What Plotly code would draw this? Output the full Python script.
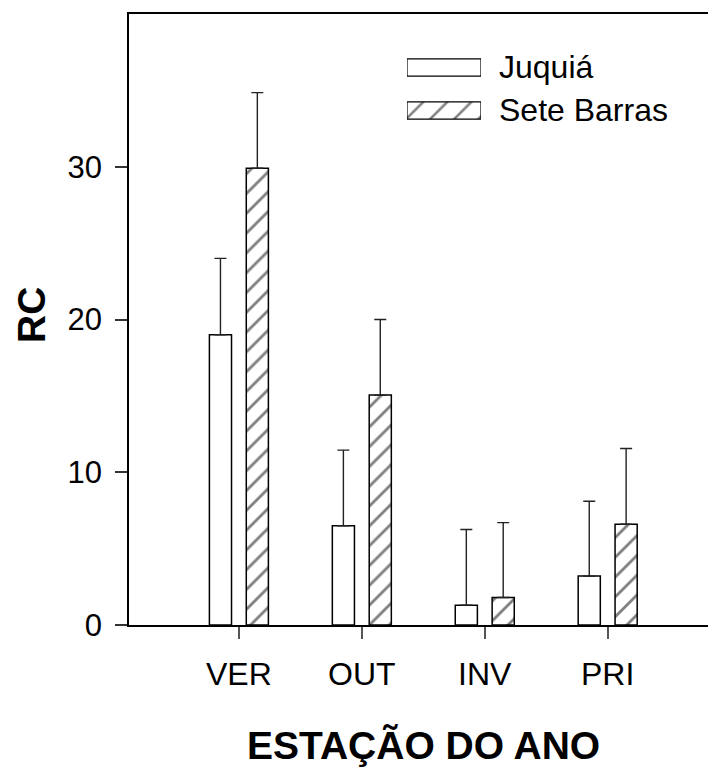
import plotly.graph_objects as go

categories = ['VER', 'OUT', 'INV', 'PRI']
juquia = [19.0, 6.5, 1.3, 3.2]
juquia_err = [5.0, 4.95, 4.95, 4.9]
sete = [29.9, 15.05, 1.8, 6.6]
sete_err = [4.95, 4.95, 4.9, 4.95]
series_names = ['Juquiá', 'Sete Barras']
y_ticks = [0, 10, 20, 30]

FONT = 'Liberation Sans, Arial, sans-serif'
W, H = 708, 767
L, R, T, B = 129, 0, 14, 142

fig = go.Figure()

def err(arr):
    return dict(type='data', symmetric=False, array=arr, arrayminus=[0] * len(arr),
                color='#222', thickness=1.4, width=6)

fig.add_trace(go.Bar(
    x=categories, y=juquia, name=series_names[0], error_y=err(juquia_err),
    marker=dict(color='white', line=dict(color='black', width=1.5)),
    showlegend=False))
fig.add_trace(go.Bar(
    x=categories, y=sete, name=series_names[1], error_y=err(sete_err),
    marker=dict(color='white', line=dict(color='black', width=1.5),
                pattern=dict(shape='/', fgcolor='black', bgcolor='white', size=14, solidity=0.2)),
    showlegend=False))

# custom legend drawn as a tiny hidden subplot
fig.add_trace(go.Bar(
    x=[1, 1], y=[0, 1], orientation='h', base=0, width=0.4,
    xaxis='x2', yaxis='y2', showlegend=False, hoverinfo='skip',
    marker=dict(color='white', line=dict(color='black', width=1.2),
                pattern=dict(shape=['', '/'], fgcolor='black', bgcolor='white', size=17, solidity=0.15))))

pw = W - L - R
ph = H - T - B
def px_x(p):
    return (p - L) / pw
def px_y(p):
    return (H - B - p) / ph

for i, name in enumerate(series_names):
    fig.add_annotation(x=1, y=i, xref='x2', yref='y2', text=name, showarrow=False,
                       xanchor='left', yanchor='middle', xshift=16,
                       font=dict(family=FONT, size=32, color='black'))

fig.add_annotation(x=px_x(31), y=px_y(315), xref='paper', yref='paper', text='<b>RC</b>',
                   textangle=-90, showarrow=False, xanchor='center', yanchor='middle',
                   font=dict(family=FONT, size=39, color='black'))
fig.add_annotation(x=px_x(423), y=px_y(745), xref='paper', yref='paper',
                   text='<b>ESTAÇÃO DO ANO</b>', showarrow=False, xanchor='center', yanchor='middle',
                   font=dict(family=FONT, size=39, color='black'))

fig.update_layout(
    width=W, height=H,
    margin=dict(l=L, r=R, t=T, b=B, pad=0),
    paper_bgcolor='white', plot_bgcolor='white',
    barmode='group', bargap=0.4, bargroupgap=0.4,
    font=dict(family=FONT, color='black'),
    xaxis=dict(type='category', range=[-0.894, 3.816], showline=True, linecolor='black', linewidth=1.5,
               mirror=True, ticks='outside', ticklen=12, tickcolor='#555', tickwidth=1.5,
               tickfont=dict(family=FONT, size=32), showgrid=False, zeroline=False,
               ticklabelstandoff=8),
    yaxis=dict(range=[0, 40], tickvals=y_ticks, showline=True, linecolor='black', linewidth=1.5,
               mirror=False, ticks='outside', ticklen=12, tickcolor='#333', tickwidth=1.5,
               tickfont=dict(family=FONT, size=31), showgrid=False, zeroline=False,
               ticklabelstandoff=7),
    xaxis2=dict(domain=[px_x(407), px_x(481)], range=[0, 1], anchor='y2', visible=False,
                fixedrange=True),
    yaxis2=dict(domain=[px_y(132), px_y(46)], range=[1.5, -0.5], anchor='x2', visible=False,
                fixedrange=True),
)

fig.write_html('out.html')
